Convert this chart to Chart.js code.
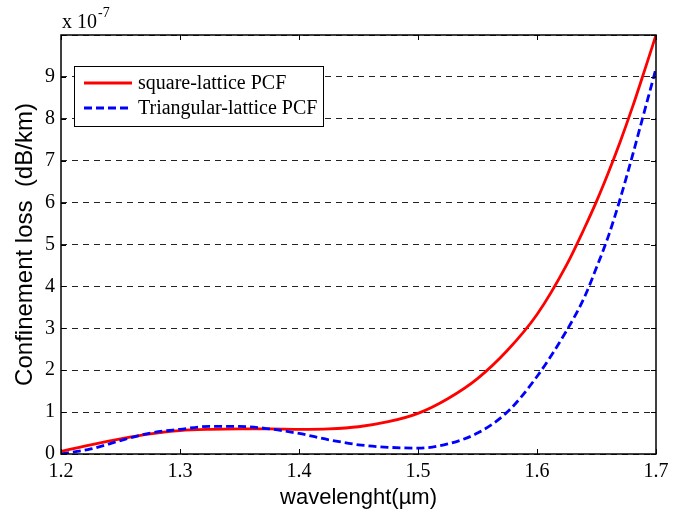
<!DOCTYPE html>
<html><head><meta charset="utf-8">
<script src="https://cdn.jsdelivr.net/npm/chart.js@4/dist/chart.umd.min.js"></script>
<style>html,body{margin:0;padding:0;background:#fff}</style>
</head><body>
<canvas id="c" width="681" height="517"></canvas>
<script>
// ---- data ----
const wavelength = [1.2,1.225,1.25,1.275,1.3,1.325,1.35,1.375,1.4,1.425,1.45,1.475,1.5,1.525,1.55,1.575,1.6,1.625,1.64,1.65,1.66,1.67,1.68,1.69,1.7];
const squareLoss = [0.06,0.22,0.36,0.48,0.56,0.59,0.6,0.6,0.59,0.6,0.65,0.77,0.97,1.32,1.8,2.47,3.33,4.52,5.4,6.03,6.72,7.46,8.26,9.12,10.0];
const triangularLoss = [0.0,0.12,0.32,0.5,0.59,0.66,0.66,0.6,0.49,0.34,0.22,0.16,0.14,0.24,0.5,1.0,1.85,2.95,3.75,4.45,5.2,6.1,7.1,8.15,9.2];
const xTickValues = [1.2,1.3,1.4,1.5,1.6,1.7];
const yTickValues = [0,1,2,3,4,5,6,7,8,9,10];
const yTickLabels = ['0','1','2','3','4','5','6','7','8','9',''];
const seriesLabels = ['square-lattice PCF','Triangular-lattice PCF'];
const exponentBase = 'x 10';
const exponentPower = '-7';
const xTitle = 'wavelenght(\u00b5m)';
const yTitle = 'Confinement loss  (dB/km)';

const SERIF = '"Liberation Serif", "Times New Roman", serif';
const SANS = '"Liberation Sans", Arial, sans-serif';

const toPoints = (xs, ys) => xs.map((x, i) => ({x, y: ys[i]}));

const framePlugin = {
  id: 'frame',
  afterDraw(chart) {
    const {ctx, chartArea: a, scales} = chart;
    const xs = scales.x, ys = scales.y;
    ctx.save();
    ctx.strokeStyle = '#000';
    ctx.lineWidth = 1;
    const tl = 5;
    xTickValues.forEach(v => {
      const p = Math.round(xs.getPixelForValue(v)) + 0.5;
      ctx.beginPath();
      ctx.moveTo(p, a.bottom); ctx.lineTo(p, a.bottom - tl);
      ctx.moveTo(p, a.top); ctx.lineTo(p, a.top + tl);
      ctx.stroke();
    });
    yTickValues.forEach(v => {
      const p = Math.round(ys.getPixelForValue(v)) + 0.5;
      ctx.beginPath();
      ctx.moveTo(a.left, p); ctx.lineTo(a.left + tl, p);
      ctx.moveTo(a.right, p); ctx.lineTo(a.right - tl, p);
      ctx.stroke();
    });
    ctx.lineWidth = 1.5;
    ctx.strokeRect(a.left, a.top, a.right - a.left, a.bottom - a.top);

    // exponent label
    ctx.fillStyle = '#000';
    ctx.textBaseline = 'alphabetic';
    ctx.textAlign = 'left';
    ctx.font = '20px ' + SERIF;
    ctx.fillText(exponentBase, a.left + 1, 28);
    const w = ctx.measureText(exponentBase).width;
    ctx.font = '14px ' + SERIF;
    ctx.fillText(exponentPower, a.left + 1 + w + 1, 17);

    // legend
    const lx = a.left + 13, ly = a.top + 31, lw = 249, lh = 60;
    ctx.fillStyle = '#fff';
    ctx.fillRect(lx, ly, lw, lh);
    ctx.strokeStyle = '#000';
    ctx.lineWidth = 1;
    ctx.strokeRect(lx + 0.5, ly + 0.5, lw, lh);
    chart.data.datasets.forEach((ds, i) => {
      const y = ly + 17 + i * 25;
      ctx.beginPath();
      ctx.strokeStyle = ds.borderColor;
      ctx.lineWidth = ds.borderWidth;
      ctx.setLineDash(ds.borderDash || []);
      ctx.moveTo(lx + 10, y); ctx.lineTo(lx + 58, y);
      ctx.stroke();
      ctx.setLineDash([]);
      ctx.fillStyle = '#000';
      ctx.font = '20px ' + SERIF;
      ctx.textBaseline = 'middle';
      ctx.fillText(ds.label, lx + 64, y + 1);
    });
    ctx.restore();
  }
};

new Chart(document.getElementById('c'), {
  type: 'line',
  data: {
    datasets: [
      {
        label: seriesLabels[0],
        data: toPoints(wavelength, squareLoss),
        borderColor: '#ff0000',
        borderWidth: 2.8,
        pointRadius: 0,
        cubicInterpolationMode: 'monotone',
        fill: false,
        order: 1
      },
      {
        label: seriesLabels[1],
        data: toPoints(wavelength, triangularLoss),
        borderColor: '#0000ff',
        borderWidth: 2.8,
        borderDash: [8, 4],
        pointRadius: 0,
        cubicInterpolationMode: 'monotone',
        fill: false,
        order: 0
      }
    ]
  },
  options: {
    responsive: false,
    animation: false,
    devicePixelRatio: 1,
    layout: {padding: {left: 0, top: 35, right: 25, bottom: 0}},
    plugins: {legend: {display: false}, tooltip: {enabled: false}},
    scales: {
      x: {
        type: 'linear',
        min: 1.2, max: 1.7,
        afterBuildTicks: s => { s.ticks = xTickValues.map(v => ({value: v})); },
        afterFit: s => { s.height = 63; },
        grid: {display: false, drawTicks: false},
        border: {display: false},
        ticks: {
          color: '#000',
          padding: 6,
          maxRotation: 0,
          autoSkip: false,
          font: {family: SERIF, size: 20},
          callback: v => v.toFixed(1)
        },
        title: {
          display: true,
          text: xTitle,
          color: '#000',
          font: {family: SANS, size: 22},
          padding: {top: 0, bottom: 6}
        }
      },
      y: {
        type: 'linear',
        min: 0, max: 10,
        afterBuildTicks: s => { s.ticks = yTickValues.map(v => ({value: v})); },
        afterFit: s => { s.width = 61; },
        grid: {display: true, drawTicks: false, color: '#222', lineWidth: 1},
        border: {display: false, dash: [6, 5]},
        ticks: {
          color: '#000',
          padding: 6,
          autoSkip: false,
          font: {family: SERIF, size: 20},
          callback: v => yTickLabels[yTickValues.indexOf(v)] ?? ''
        },
        title: {
          display: true,
          text: yTitle,
          color: '#000',
          font: {family: SANS, size: 24},
          padding: {top: 11, bottom: 0}
        }
      }
    }
  },
  plugins: [framePlugin]
});
</script>
</body></html>
